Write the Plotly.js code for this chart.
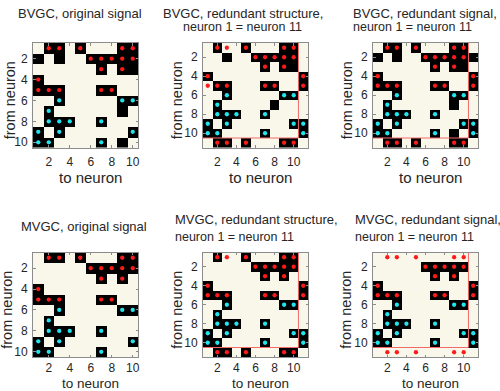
<!DOCTYPE html>
<html><head><meta charset="utf-8">
<script src="https://cdn.plot.ly/plotly-3.0.1.min.js"></script>
<style>html,body{margin:0;padding:0;background:#fff}</style>
</head><body><div id="chart" style="width:500px;height:391px"></div>
<script>
// ---------- DATA ----------
// ground-truth connections: 0 none, 1 red (excitatory), 2 cyan (inhibitory)
const truth10 = [
 [0,1,1,0,1,0,0,0,1,1],
 [0,0,0,0,0,1,1,1,1,1],
 [0,0,0,0,0,0,1,0,1,0],
 [1,0,0,0,0,0,0,0,0,0],
 [1,1,1,0,0,0,1,1,0,0],
 [0,0,2,0,0,0,0,0,2,2],
 [0,2,0,0,0,0,0,0,0,0],
 [0,2,2,2,0,0,2,0,0,0],
 [2,0,2,0,0,0,0,0,0,2],
 [2,2,0,0,0,0,2,0,0,0]
];
const truth11 = [
 [0,1,1,0,1,0,0,0,1,1,0],
 [0,0,0,0,0,1,1,1,1,1,0],
 [0,0,0,0,0,0,1,0,1,0,0],
 [1,0,0,0,0,0,0,0,0,0,1],
 [1,1,1,0,0,0,1,1,0,0,1],
 [0,0,2,0,0,0,0,0,2,2,0],
 [0,2,0,0,0,0,0,0,0,0,0],
 [0,2,2,2,0,0,2,0,0,0,0],
 [2,0,2,0,0,0,0,0,0,2,2],
 [2,2,0,0,0,0,2,0,0,0,2],
 [0,1,1,0,1,0,0,0,1,1,0]
];
// detected (significant) connections: 1 = black cell
const detBVGCorig = [
 [0,1,1,0,1,0,0,0,1,1],
 [1,0,1,0,0,1,1,1,1,1],
 [0,0,0,0,0,0,1,0,1,1],
 [1,0,0,0,0,0,0,0,0,0],
 [1,1,1,0,0,0,1,1,0,0],
 [0,0,1,0,0,0,0,0,1,1],
 [0,1,0,0,0,0,0,0,1,0],
 [0,1,1,1,0,0,1,0,0,0],
 [1,0,1,0,0,0,0,0,0,1],
 [1,1,0,0,0,0,1,0,1,0]
];
const detBVGCstruct = [
 [0,1,0,0,1,0,0,0,1,1,0],
 [0,0,1,0,0,1,1,1,1,1,0],
 [0,0,0,0,0,0,1,0,1,1,0],
 [1,0,0,0,0,0,0,0,0,0,1],
 [0,1,1,0,0,0,1,1,0,0,1],
 [0,0,1,0,0,0,0,0,1,1,0],
 [0,1,0,0,0,0,0,1,0,0,0],
 [0,1,1,1,0,0,1,0,0,0,0],
 [1,0,1,0,0,0,0,0,0,1,1],
 [1,1,0,0,0,0,1,0,0,0,1],
 [0,1,1,0,1,0,0,0,1,1,0]
];
const detBVGCsignal = [
 [0,1,1,0,1,0,0,0,1,1,0],
 [1,0,1,0,0,1,1,1,1,1,1],
 [0,0,0,0,0,0,1,0,1,1,0],
 [1,0,0,0,0,0,0,0,0,0,1],
 [1,1,1,0,0,0,1,1,0,0,1],
 [0,0,1,0,0,0,0,0,1,1,0],
 [0,1,0,0,0,0,0,0,1,0,0],
 [0,1,1,1,0,0,1,0,0,0,0],
 [1,0,1,0,0,0,0,0,0,1,1],
 [1,1,0,0,0,0,1,0,1,0,1],
 [0,1,1,0,1,0,0,0,1,1,0]
];
const detMVGCorig = [
 [0,1,1,0,1,0,0,0,1,1],
 [0,0,0,0,0,1,1,1,1,1],
 [0,0,0,0,0,0,1,0,1,0],
 [1,0,0,0,0,0,0,0,0,0],
 [1,1,1,0,0,0,1,1,0,0],
 [0,0,1,0,0,0,0,0,1,1],
 [0,1,0,0,0,0,0,0,0,0],
 [0,1,1,1,0,0,1,0,0,0],
 [1,0,1,0,0,0,0,0,0,1],
 [1,1,0,0,0,0,1,0,0,0]
];
const detMVGCstruct = [
 [0,1,0,0,1,0,0,0,1,1,0],
 [0,0,0,0,0,1,1,1,1,1,0],
 [0,0,0,0,0,0,1,0,1,0,0],
 [1,0,0,0,0,0,0,0,0,0,1],
 [1,1,1,0,0,0,1,1,0,0,1],
 [0,0,1,0,0,0,0,0,1,1,0],
 [0,1,0,0,0,0,0,0,0,0,0],
 [0,1,1,1,0,0,1,0,0,0,0],
 [1,0,1,0,0,0,0,0,0,1,1],
 [1,1,0,0,0,0,1,0,0,0,1],
 [0,1,1,0,1,0,0,0,1,1,0]
];
const detMVGCsignal = [
 [0,0,0,0,0,0,0,0,0,0,0],
 [0,0,0,0,0,1,1,1,1,1,0],
 [0,0,0,0,0,0,1,0,1,0,0],
 [1,0,0,0,0,0,0,0,0,0,1],
 [1,1,1,0,0,0,1,1,0,0,1],
 [0,0,1,0,0,0,0,0,1,1,0],
 [0,1,0,0,0,0,0,0,0,0,0],
 [0,1,1,1,0,0,1,0,0,0,0],
 [1,0,1,0,0,0,0,0,0,1,1],
 [1,1,0,0,0,0,1,0,0,0,1],
 [0,0,0,0,0,0,0,0,0,0,0]
];
const nOriginal = 10;
const tickVals = [2,4,6,8,10];
const titles = [
 ["BVGC, original signal"],
 ["BVGC, redundant structure,", "neuron 1 = neuron 11"],
 ["BVGC, redundant signal,", "neuron 1 = neuron 11"],
 ["MVGC, original signal"],
 ["MVGC, redundant structure,", "neuron 1 = neuron 11"],
 ["MVGC, redundant signal,", "neuron 1 = neuron 11"]
];
const xLabel = "to neuron";
const yLabel = "from neuron";

// ---------- LAYOUT / DRAWING ----------
const W = 500, H = 391;
const panels = [
 {det: detBVGCorig,   truth: truth10, sep:false, px:[33,138],  py:[43,147.5]},
 {det: detBVGCstruct, truth: truth11, sep:true,  px:[203,308], py:[43,147.5]},
 {det: detBVGCsignal, truth: truth11, sep:true,  px:[373,478], py:[43,147.5]},
 {det: detMVGCorig,   truth: truth10, sep:false, px:[33,138],  py:[252.5,357]},
 {det: detMVGCstruct, truth: truth11, sep:true,  px:[203,308], py:[252.5,357]},
 {det: detMVGCsignal, truth: truth11, sep:true,  px:[373,478], py:[252.5,357]}
];
// title placement (pixels): [x, y, anchor] per line
const titlePos = [
 [[80,13.5,'center']],
 [[161,13,'left'],[181,27,'left']],
 [[351,13,'left'],[351,27,'left']],
 [[84,226.5,'center']],
 [[173,219,'left'],[173,236.5,'left']],
 [[353,219,'left'],[353,236.5,'left']]
];
const yLabX = [10,177,347,7,177,346];
const xLabDy = [29.5,29.5,29.5,26.2,26.2,26.2];
const xStand = [3,3,3,0,0,0];

const font = 'Liberation Sans, Arial, Helvetica, sans-serif';
const txtCol = '#262626';
const cream = '#f8f7e9';
const frame = '#8c8c8c';
const fx = p => p / W;
const fy = p => 1 - p / H;

const data = [];
const layout = {
  width: W, height: H,
  margin: {l:0, r:0, t:0, b:0},
  paper_bgcolor: '#fff', plot_bgcolor: cream,
  showlegend: false,
  font: {family: font, color: txtCol},
  annotations: [], shapes: []
};

panels.forEach((p, i) => {
  const k = i + 1;
  const xa = 'x' + k, ya = 'y' + k;
  const N = p.det.length;
  const idx = Array.from({length: N}, (_, j) => j + 1);
  data.push({
    type: 'heatmap', z: p.det, x: idx, y: idx,
    xaxis: xa, yaxis: ya,
    colorscale: [[0, cream], [1, '#000']], zmin: 0, zmax: 1,
    showscale: false, hoverinfo: 'skip'
  });
  const red = {x: [], y: []}, cyan = {x: [], y: []};
  p.truth.forEach((row, r) => row.forEach((v, c) => {
    if (v === 1) { red.x.push(c + 1); red.y.push(r + 1); }
    if (v === 2) { cyan.x.push(c + 1); cyan.y.push(r + 1); }
  }));
  [[red, '#ff1a1a'], [cyan, '#22e4ee']].forEach(([s, col]) => {
    data.push({
      type: 'scatter', mode: 'markers', x: s.x, y: s.y,
      xaxis: xa, yaxis: ya, hoverinfo: 'skip',
      marker: {color: col, size: 4.3, line: {width: 0}}
    });
  });
  const axCommon = {
    tickvals: tickVals, ticks: 'inside', ticklen: 2.5, tickcolor: frame,
    showline: true, linecolor: frame, linewidth: 1, mirror: 'ticks',
    showgrid: false, zeroline: false, fixedrange: true,
    tickfont: {size: 12, family: font, color: txtCol}
  };
  layout['xaxis' + (k === 1 ? '' : k)] = Object.assign({}, axCommon, {
    domain: [fx(p.px[0]), fx(p.px[1])], range: [0.5, N + 0.5],
    anchor: ya, ticklabelstandoff: xStand[i]
  });
  layout['yaxis' + (k === 1 ? '' : k)] = Object.assign({}, axCommon, {
    domain: [fy(p.py[1]), fy(p.py[0])], range: [N + 0.5, 0.5],
    anchor: xa, ticklabelstandoff: 2
  });
  if (p.sep) {
    const b = nOriginal + 0.5;
    const ln = {color: '#f26a6a', width: 1};
    layout.shapes.push({type: 'line', xref: xa, yref: ya, x0: b, x1: b, y0: 0.5, y1: b, line: ln});
    layout.shapes.push({type: 'line', xref: xa, yref: ya, x0: 0.5, x1: b, y0: b, y1: b, line: ln});
  }
  titles[i].forEach((t, j) => {
    const [tx, ty, anc] = titlePos[i][j];
    layout.annotations.push({
      text: t, xref: 'paper', yref: 'paper', x: fx(tx), y: fy(ty),
      xanchor: anc, yanchor: 'middle', showarrow: false,
      font: {size: j === 0 ? 13 : 12.5, family: font, color: txtCol}
    });
  });
  const cx = (p.px[0] + p.px[1]) / 2 + 5;
  layout.annotations.push({
    text: xLabel, xref: 'paper', yref: 'paper', x: fx(cx), y: fy(p.py[1] + xLabDy[i]),
    xanchor: 'center', yanchor: 'middle', showarrow: false,
    font: {size: i < 3 ? 15 : 13.5, family: font, color: txtCol}
  });
  const cy = (p.py[0] + p.py[1]) / 2 + 5;
  layout.annotations.push({
    text: yLabel, xref: 'paper', yref: 'paper', x: fx(yLabX[i]), y: fy(cy),
    xanchor: 'center', yanchor: 'middle', showarrow: false, textangle: -90,
    font: {size: 14.5, family: font, color: txtCol}
  });
});

Plotly.newPlot('chart', data, layout, {displayModeBar: false, staticPlot: true});
</script></body></html>
